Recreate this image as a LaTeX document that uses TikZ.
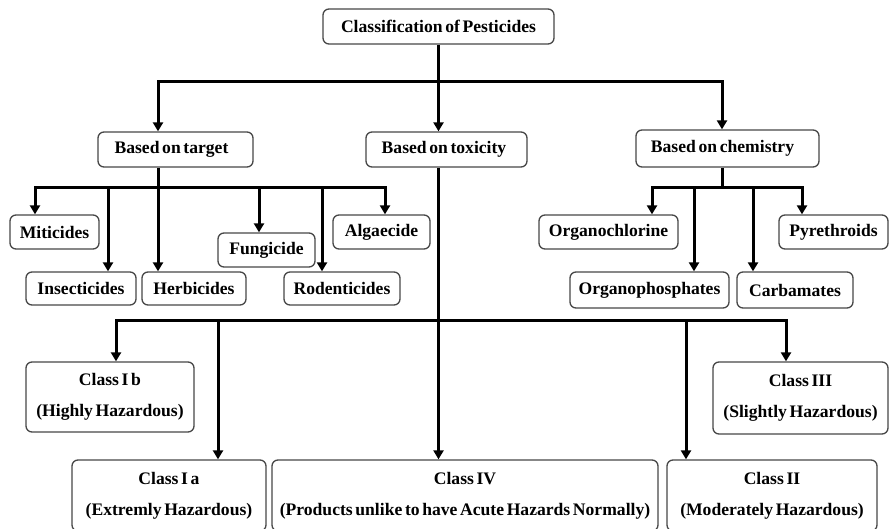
\documentclass[tikz,border=0pt]{standalone}
\usepackage{fontspec}
\setmainfont[WordSpace=0.6]{Liberation Serif}
\usetikzlibrary{arrows.meta}
\begin{document}
\begin{tikzpicture}[x=1pt,y=-1pt,
  box/.style={draw=black!72, line width=1.3pt, rounded corners=6pt, fill=white,
    inner sep=0pt, align=center,
    font=\fontsize{17.6}{31}\selectfont\bfseries},
  conn/.style={line width=3pt, line join=miter},
  arr/.style={conn, -{Triangle[width=10pt,length=9pt]}}]
\useasboundingbox (0,0) rectangle (889,529);
\clip (0,0) rectangle (889,529);

% root and the three criteria
\node[box, minimum width=231, minimum height=35] (top) at (438.5,26.5) {Classification of Pesticides};
\node[box, minimum width=155, minimum height=35] (target) at (175.5,149.5) {\hspace*{-8pt}Based on target};
\node[box, minimum width=161, minimum height=35] (toxicity) at (446.5,149.5) {\hspace*{-5pt}Based on toxicity};
\node[box, minimum width=183, minimum height=37] (chemistry) at (727.5,148.5) {\hspace*{-10pt}Based on chemistry};

% target groups
\node[box, minimum width=89, minimum height=34] (miticides) at (54.5,232) {Miticides};
\node[box, minimum width=110, minimum height=33] (insecticides) at (81,288.5) {Insecticides};
\node[box, minimum width=104, minimum height=33] (herbicides) at (194,288.5) {Herbicides};
\node[box, minimum width=97, minimum height=34] (fungicide) at (266.5,250) {Fungicide};
\node[box, minimum width=116, minimum height=33] (rodenticides) at (342,288.5) {Rodenticides};
\node[box, minimum width=97, minimum height=34] (algaecide) at (381.5,232) {Algaecide};

% chemical groups
\node[box, minimum width=139, minimum height=34] (organochlorine) at (608.5,232) {Organochlorine};
\node[box, minimum width=159, minimum height=36] (organophosphates) at (649.5,290) {Organophosphates};
\node[box, minimum width=116, minimum height=36] (carbamates) at (795,290) {Carbamates};
\node[box, minimum width=109, minimum height=34] (pyrethroids) at (833.5,232) {Pyrethroids};

% toxicity classes
\node[box, minimum width=168, minimum height=70] (classIb) at (110,397) {Class I b\\(Highly Hazardous)};
\node[box, minimum width=175, minimum height=72] (classIII) at (800.5,398) {Class III\\(Slightly Hazardous)};
\node[box, minimum width=194, minimum height=71] (classIa) at (169,495.5) {Class I a\\(Extremly Hazardous)};
\node[box, minimum width=386, minimum height=71] (classIV) at (465,495.5) {Class IV\\(Products unlike to have Acute Hazards Normally)};
\node[box, minimum width=210, minimum height=71] (classII) at (772,495.5) {Class II\\(Moderately Hazardous)};

% bus lines
\coordinate (b1L) at (158,82);
\coordinate (b1R) at (722,82);
\coordinate (tL) at (35,188);
\coordinate (tR) at (385,188);
\coordinate (tM) at (158,188);
\coordinate (cL) at (652,188);
\coordinate (cR) at (802,188);
\coordinate (cM) at (722,188);
\coordinate (xL) at (116,321);
\coordinate (xR) at (786,321);
\coordinate (xM) at (438.5,321);

% root to criteria
\draw[conn] (top.south) -- (top.south |- b1L);
\draw[arr] (top.south |- b1L) -- (b1L) -- (target.north -| b1L);
\draw[arr] (top.south |- b1L) -- (b1R) -- (chemistry.north -| b1R);
\draw[arr] (top.south |- b1L) -- (toxicity.north -| top.south);

% target branch
\draw[arr] (target.south -| tM) -- (herbicides.north -| tM);
\draw[arr] (tM) -- (tL) -- (miticides.north -| tL);
\draw[arr] (tM) -- (tR) -- (algaecide.north -| tR);
\draw[arr] (108,188) -- (insecticides.north -| 108,0);
\draw[arr] (259,188) -- (fungicide.north -| 259,0);
\draw[arr] (322,188) -- (rodenticides.north -| 322,0);

% chemistry branch
\draw[conn] (chemistry.south -| cM) -- (cM);
\draw[arr] (cM) -- (cL) -- (organochlorine.north -| cL);
\draw[arr] (cM) -- (cR) -- (pyrethroids.north -| cR);
\draw[arr] (694,188) -- (organophosphates.north -| 694,0);
\draw[arr] (753,188) -- (carbamates.north -| 753,0);

% toxicity branch
\draw[arr] (toxicity.south -| xM) -- (classIV.north -| xM);
\draw[arr] (xM) -- (xL) -- (classIb.north -| xL);
\draw[arr] (xM) -- (xR) -- (classIII.north -| xR);
\draw[arr] (218,321) -- (classIa.north -| 218,0);
\draw[arr] (686,321) -- (classII.north -| 686,0);
\end{tikzpicture}
\end{document}
